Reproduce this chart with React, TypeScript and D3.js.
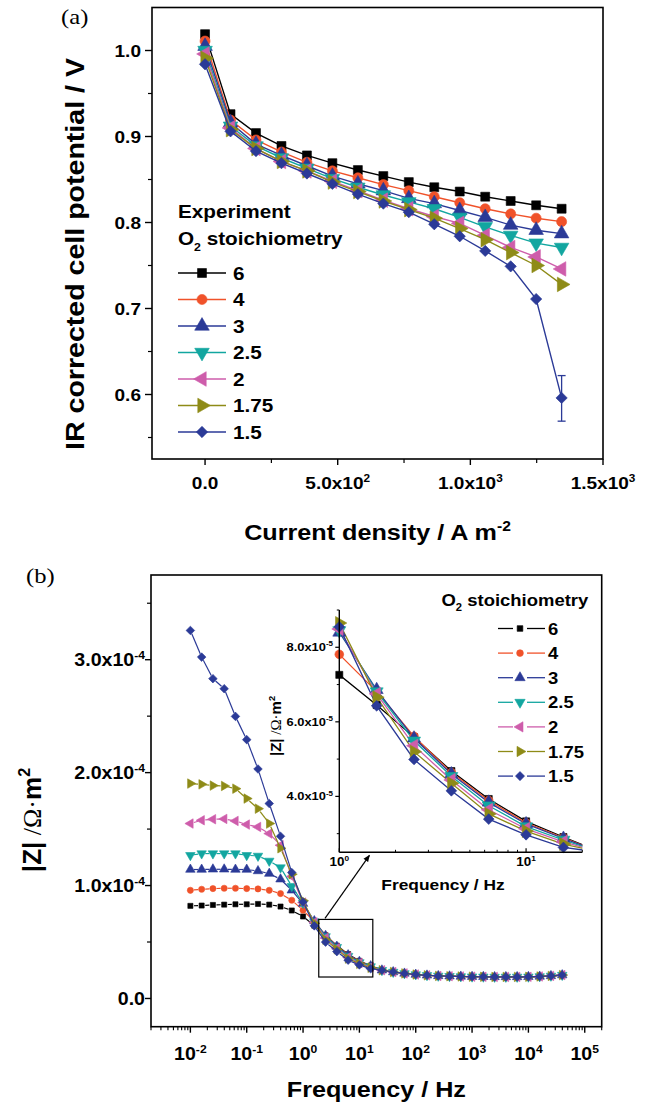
import React from "react";
import * as d3 from "d3";

// ---------------- Panel (a): polarisation curves ----------------
// current density, A m^-2
const currentDensity = [0, 96, 192, 288, 384, 480, 576, 672, 768, 864, 960, 1056, 1152, 1248, 1344];
// IR corrected cell potential, V, one array per O2 stoichiometry
const potentialStoich6 = [1.019, 0.926, 0.904, 0.889, 0.878, 0.869, 0.861, 0.854, 0.847, 0.841, 0.836, 0.830, 0.825, 0.820, 0.816];
const potentialStoich4 = [1.011, 0.919, 0.896, 0.882, 0.870, 0.860, 0.852, 0.844, 0.837, 0.830, 0.823, 0.816, 0.810, 0.805, 0.801];
const potentialStoich3 = [1.005, 0.916, 0.891, 0.878, 0.866, 0.854, 0.845, 0.837, 0.828, 0.822, 0.814, 0.806, 0.797, 0.791, 0.787];
const potentialStoich25 = [1.000, 0.912, 0.889, 0.875, 0.863, 0.851, 0.841, 0.832, 0.824, 0.816, 0.806, 0.795, 0.785, 0.776, 0.771];
const potentialStoich2 = [0.996, 0.910, 0.886, 0.871, 0.860, 0.848, 0.837, 0.826, 0.816, 0.807, 0.799, 0.785, 0.771, 0.760, 0.746];
const potentialStoich175 = [0.991, 0.908, 0.886, 0.871, 0.860, 0.847, 0.836, 0.825, 0.815, 0.805, 0.793, 0.780, 0.765, 0.750, 0.728];
const potentialStoich15 = [0.984, 0.906, 0.883, 0.869, 0.857, 0.845, 0.833, 0.822, 0.812, 0.798, 0.784, 0.767, 0.749, 0.711, 0.596];
// error bar on the last point of the 1.5 run (low, high)
const lastPointErrorStoich15 = [0.569, 0.622];

const yTicksA = [0.6, 0.7, 0.8, 0.9, 1.0];
const yMinorTicksA = [0.55, 0.65, 0.75, 0.85, 0.95];
const xTicksA = [0, 500, 1000, 1500];
const xMinorTicksA = [250, 750, 1250];
const xTickMantissaA = ["0.0", "5.0x10", "1.0x10", "1.5x10"];
const xTickExponentA = ["", "2", "3", "3"];

// ---------------- Panel (b): impedance magnitude ----------------
// frequency, Hz (five points per decade)
const frequency = [
  0.01, 0.01585, 0.02512, 0.03981, 0.0631, 0.1, 0.1585, 0.2512, 0.3981, 0.631,
  1, 1.585, 2.512, 3.981, 6.31, 10, 15.85, 25.12, 39.81, 63.1,
  100, 158.5, 251.2, 398.1, 631, 1000, 1585, 2512, 3981, 6310,
  10000, 15850, 25120, 39810,
];
// |Z| in units of 1e-4 Ω·m², 0.01 Hz to 15.85 Hz
const zStoich6 = [0.820, 0.823, 0.828, 0.831, 0.834, 0.834, 0.837, 0.831, 0.814, 0.779, 0.726, 0.645, 0.559, 0.468, 0.393, 0.333, 0.291];
const zStoich4 = [0.958, 0.967, 0.973, 0.976, 0.976, 0.973, 0.970, 0.958, 0.929, 0.870, 0.781, 0.681, 0.561, 0.464, 0.389, 0.329, 0.289];
const zStoich3 = [1.142, 1.142, 1.144, 1.144, 1.142, 1.142, 1.129, 1.106, 1.056, 0.958, 0.840, 0.686, 0.556, 0.460, 0.384, 0.326, 0.287];
const zStoich25 = [1.268, 1.283, 1.283, 1.283, 1.283, 1.268, 1.262, 1.218, 1.159, 0.994, 0.845, 0.681, 0.549, 0.454, 0.375, 0.319, 0.283];
const zStoich2 = [1.549, 1.578, 1.587, 1.590, 1.572, 1.540, 1.519, 1.460, 1.357, 1.080, 0.849, 0.675, 0.536, 0.444, 0.364, 0.313, 0.278];
const zStoich175 = [1.903, 1.896, 1.885, 1.882, 1.858, 1.770, 1.681, 1.549, 1.330, 1.100, 0.865, 0.666, 0.520, 0.435, 0.353, 0.307, 0.272];
const zStoich15 = [3.259, 3.023, 2.832, 2.743, 2.498, 2.292, 2.032, 1.726, 1.436, 1.115, 0.855, 0.643, 0.499, 0.415, 0.339, 0.297, 0.263];
// |Z| from 25 Hz upward, common to all runs (1e-4 Ω·m²)
const zHighFrequency = [0.250, 0.234, 0.222, 0.212, 0.205, 0.200, 0.197, 0.195, 0.193, 0.192, 0.191, 0.191, 0.191, 0.192, 0.195, 0.200, 0.207];

const yTicksB = [0, 1, 2, 3];
const yMinorTicksB = [0.5, 1.5, 2.5, 3.5];
const yTickMantissaB = ["0.0", "1.0x10", "2.0x10", "3.0x10"];
const yTickExponentB = ["", "-4", "-4", "-4"];
const xDecadesB = [-2, -1, 0, 1, 2, 3, 4, 5];

const yTicksInset = [0.4, 0.6, 0.8];
const yMinorTicksInset = [0.3, 0.5, 0.7, 0.9];
const yTickMantissaInset = ["4.0x10", "6.0x10", "8.0x10"];
const xDecadesInset = [0, 1];

// legend labels shared by both panels
const stoichLabels = ["6", "4", "3", "2.5", "2", "1.75", "1.5"];

// ---------------- styles ----------------
const seriesColors = ["#000000", "#F0522A", "#2B3A97", "#12A6A0", "#CE5DAB", "#8E8B17", "#2B3A97"];
const seriesShapes = ["square", "circle", "triangleUp", "triangleDown", "triangleLeft", "triangleRight", "diamond"];

const FONT = "'Liberation Sans', Arial, Helvetica, sans-serif";
const SERIF = "'Liberation Serif', 'Times New Roman', serif";
const STRETCH = 1.12;

const A = { left: 152, right: 603, top: 7.5, bottom: 459 };
const B = { left: 151, right: 601.7, top: 575, bottom: 1026.7 };
const INSET = { left: 339.3, right: 582.3, top: 610, bottom: 852.3 };

const xA = d3.scaleLinear().domain([-200, 1500]).range([A.left, A.right]);
const yA = d3.scaleLinear().domain([0.525, 1.05]).range([A.bottom, A.top]);
const xB = d3.scaleLog().domain([0.002, 2e5]).range([B.left, B.right]);
const yB = d3.scaleLinear().domain([-0.25, 3.75]).range([B.bottom, B.top]);
const xI = d3.scaleLog().domain([1, 20]).range([INSET.left, INSET.right]);
const yI = d3.scaleLinear().domain([0.25, 0.9]).range([INSET.bottom, INSET.top]);

const potentialSeries = [potentialStoich6, potentialStoich4, potentialStoich3, potentialStoich25, potentialStoich2, potentialStoich175, potentialStoich15];
const impedanceSeries = [zStoich6, zStoich4, zStoich3, zStoich25, zStoich2, zStoich175, zStoich15].map((low) => low.concat(zHighFrequency));

const rotationFor: Record<string, number> = {
  square: 0, circle: 0, triangleUp: 0, triangleDown: 180, triangleLeft: -90, triangleRight: 90, diamond: 45,
};

function markerPath(shape: string, area: number) {
  const type = shape === "circle" ? d3.symbolCircle : shape.startsWith("triangle") ? d3.symbolTriangle : d3.symbolSquare;
  return d3.symbol().type(type).size(area)() as string;
}

function Marker({ shape, x, y, area, color }: { shape: string; x: number; y: number; area: number; color: string }) {
  const scaleArea = shape.startsWith("triangle") ? area * 1.15 : shape === "diamond" ? area * 0.8 : area;
  return (
    <path
      d={markerPath(shape, scaleArea)}
      transform={`translate(${x},${y}) rotate(${rotationFor[shape]})`}
      fill={color}
      stroke={color}
      strokeWidth={0.6}
    />
  );
}

// text with a slight stretch along its reading direction (wide grotesque look)
function Txt({
  x, y, size, anchor = "start", rotate = 0, weight = "bold", family = FONT, stretch = STRETCH, children,
}: any) {
  return (
    <g transform={`translate(${x},${y})${rotate ? ` rotate(${rotate})` : ""} scale(${stretch},1)`}>
      <text x={0} y={0} fontSize={size} fontWeight={weight} fontFamily={family} textAnchor={anchor} fill="#000">
        {children}
      </text>
    </g>
  );
}

function Sup({ size, children }: any) {
  return (
    <tspan dy={-size * 0.42} fontSize={size * 0.62}>
      {children}
    </tspan>
  );
}

// line between consecutive points with a small gap left around each symbol
function gappedSegments(pts: [number, number][], gap: number) {
  const segs: [number, number, number, number][] = [];
  for (let i = 0; i < pts.length - 1; i++) {
    const [x1, y1] = pts[i];
    const [x2, y2] = pts[i + 1];
    const len = Math.hypot(x2 - x1, y2 - y1);
    if (len <= 2 * gap + 0.5) continue;
    const ux = (x2 - x1) / len;
    const uy = (y2 - y1) / len;
    segs.push([x1 + ux * gap, y1 + uy * gap, x2 - ux * gap, y2 - uy * gap]);
  }
  return segs;
}

function PanelA() {
  const line = d3
    .line<number>()
    .x((_, i) => xA(currentDensity[i]))
    .y((d) => yA(d));
  const areaA = 80;
  const legendX = 178;
  const legendY0 = 273;
  const legendStep = 26.5;
  const lastX = xA(currentDensity[currentDensity.length - 1]);
  return (
    <g>
      <Txt x={61} y={24} size={22} weight="normal" family={SERIF}>(a)</Txt>
      {/* series */}
      {potentialSeries.map((vals, s) => (
        <g key={s}>
          <path d={line(vals) as string} fill="none" stroke={seriesColors[s]} strokeWidth={1.4} />
          {vals.map((v, i) => (
            <Marker key={i} shape={seriesShapes[s]} x={xA(currentDensity[i])} y={yA(v)} area={areaA} color={seriesColors[s]} />
          ))}
        </g>
      ))}
      {/* error bar */}
      <g stroke={seriesColors[6]} strokeWidth={1.3}>
        <line x1={lastX} x2={lastX} y1={yA(lastPointErrorStoich15[0])} y2={yA(lastPointErrorStoich15[1])} />
        <line x1={lastX - 4} x2={lastX + 4} y1={yA(lastPointErrorStoich15[0])} y2={yA(lastPointErrorStoich15[0])} />
        <line x1={lastX - 4} x2={lastX + 4} y1={yA(lastPointErrorStoich15[1])} y2={yA(lastPointErrorStoich15[1])} />
      </g>
      {/* frame */}
      <rect x={A.left} y={A.top} width={A.right - A.left} height={A.bottom - A.top} fill="none" stroke="#000" strokeWidth={1.6} />
      {/* y axis ticks */}
      {yTicksA.map((t) => (
        <g key={t}>
          <line x1={A.left - 7} x2={A.left} y1={yA(t)} y2={yA(t)} stroke="#000" strokeWidth={1.4} />
          <Txt x={141} y={yA(t) + 6} size={17} anchor="end">{t.toFixed(1)}</Txt>
        </g>
      ))}
      {yMinorTicksA.map((t) => (
        <line key={t} x1={A.left - 4} x2={A.left} y1={yA(t)} y2={yA(t)} stroke="#000" strokeWidth={1.2} />
      ))}
      {/* x axis ticks */}
      {xTicksA.map((t, i) => (
        <g key={t}>
          <line x1={xA(t)} x2={xA(t)} y1={A.bottom} y2={A.bottom + 6} stroke="#000" strokeWidth={1.4} />
          <Txt x={xA(t)} y={489} size={17} anchor="middle">
            {xTickMantissaA[i]}
            {xTickExponentA[i] && <Sup size={17}>{xTickExponentA[i]}</Sup>}
          </Txt>
        </g>
      ))}
      {xMinorTicksA.map((t) => (
        <line key={t} x1={xA(t)} x2={xA(t)} y1={A.bottom} y2={A.bottom + 4} stroke="#000" strokeWidth={1.2} />
      ))}
      {/* axis titles */}
      <Txt x={(A.left + A.right) / 2} y={540} size={22.5} anchor="middle">
        Current density / A m<Sup size={22.5}>-2</Sup>
      </Txt>
      <Txt x={84} y={254} size={25.5} anchor="middle" rotate={-90}>
        IR corrected cell potential / V
      </Txt>
      {/* legend */}
      <Txt x={legendX} y={217.5} size={18.5}>Experiment</Txt>
      <Txt x={legendX} y={245} size={18.5}>
        O<tspan dy={6} fontSize={11}>2</tspan>
        <tspan dy={-6}> stoichiometry</tspan>
      </Txt>
      {stoichLabels.map((lab, s) => {
        const ly = legendY0 + s * legendStep;
        return (
          <g key={lab}>
            <line x1={legendX} x2={legendX + 48} y1={ly} y2={ly} stroke={seriesColors[s]} strokeWidth={1.4} />
            <Marker shape={seriesShapes[s]} x={legendX + 24} y={ly} area={areaA} color={seriesColors[s]} />
            <Txt x={legendX + 55} y={ly + 6.5} size={18.5}>{lab}</Txt>
          </g>
        );
      })}
    </g>
  );
}

function PanelB() {
  const mainArea = [26, 30, 34, 34, 34, 34, 46];
  const insetArea = [50, 60, 64, 64, 64, 64, 72];
  const logMinor = (lo: number, hi: number, domain: [number, number]) => {
    const out: number[] = [];
    for (let d = lo; d <= hi; d++) {
      for (let m = 2; m <= 9; m++) {
        const v = m * Math.pow(10, d);
        if (v >= domain[0] && v <= domain[1]) out.push(v);
      }
    }
    return out;
  };
  const minorB = logMinor(-3, 5, [0.002, 2e5]);
  const minorInset = logMinor(0, 1, [1, 20]);
  const insetLine = d3
    .line<number>()
    .x((_, i) => xI(frequency[i]))
    .y((d) => yI(d));
  const boxF = [1.9, 17.3];
  const boxZ = [0.19, 0.7];
  const legendX = 498;
  const legendY0 = 628.5;
  const legendStep = 24.6;
  const insetIdx = frequency.map((f, i) => i).filter((i) => frequency[i] >= 1 && frequency[i] <= 20);
  return (
    <g>
      <defs>
        <clipPath id="insetClip">
          <rect x={INSET.left} y={INSET.top - 5} width={INSET.right - INSET.left} height={INSET.bottom - INSET.top + 5} />
        </clipPath>
        <marker id="arrowHead" viewBox="0 0 10 10" refX="9" refY="5" markerWidth="7" markerHeight="7" orient="auto-start-reverse" markerUnits="userSpaceOnUse">
          <path d="M0,1 L10,5 L0,9 z" fill="#000" />
        </marker>
      </defs>
      <Txt x={26} y={583} size={22} weight="normal" family={SERIF}>(b)</Txt>

      {/* main series */}
      {impedanceSeries.map((vals, s) => {
        const pts = vals.map((v, i) => [xB(frequency[i]), yB(v)] as [number, number]);
        return (
          <g key={s}>
            {gappedSegments(pts, 3.6).map((g, k) => (
              <line key={k} x1={g[0]} y1={g[1]} x2={g[2]} y2={g[3]} stroke={seriesColors[s]} strokeWidth={1.2} />
            ))}
            {pts.map((p, i) => (
              <Marker key={i} shape={seriesShapes[s]} x={p[0]} y={p[1]} area={mainArea[s]} color={seriesColors[s]} />
            ))}
          </g>
        );
      })}

      {/* zoom box and arrow */}
      <rect
        x={xB(boxF[0])}
        y={yB(boxZ[1])}
        width={xB(boxF[1]) - xB(boxF[0])}
        height={yB(boxZ[0]) - yB(boxZ[1])}
        fill="none"
        stroke="#000"
        strokeWidth={1.2}
      />
      <line x1={xB(2.45)} y1={yB(boxZ[1]) - 1} x2={xI(1.45)} y2={INSET.bottom + 3} stroke="#000" strokeWidth={1.2} markerEnd="url(#arrowHead)" />

      {/* frame */}
      <rect x={B.left} y={B.top} width={B.right - B.left} height={B.bottom - B.top} fill="none" stroke="#000" strokeWidth={1.6} />
      {yTicksB.map((t, i) => (
        <g key={t}>
          <line x1={B.left - 6} x2={B.left} y1={yB(t)} y2={yB(t)} stroke="#000" strokeWidth={1.4} />
          <Txt x={145} y={yB(t) + 6.5} size={17.5} anchor="end">
            {yTickMantissaB[i]}
            {yTickExponentB[i] && <Sup size={17.5}>{yTickExponentB[i]}</Sup>}
          </Txt>
        </g>
      ))}
      {yMinorTicksB.map((t) => (
        <line key={t} x1={B.left - 4} x2={B.left} y1={yB(t)} y2={yB(t)} stroke="#000" strokeWidth={1.2} />
      ))}
      {xDecadesB.map((d) => (
        <g key={d}>
          <line x1={xB(Math.pow(10, d))} x2={xB(Math.pow(10, d))} y1={B.bottom} y2={B.bottom + 6} stroke="#000" strokeWidth={1.4} />
          <Txt x={xB(Math.pow(10, d))} y={1060} size={17.5} anchor="middle">
            10<Sup size={17.5}>{String(d)}</Sup>
          </Txt>
        </g>
      ))}
      {minorB.map((v) => (
        <line key={v} x1={xB(v)} x2={xB(v)} y1={B.bottom} y2={B.bottom + 3.5} stroke="#000" strokeWidth={1.1} />
      ))}
      <Txt x={(B.left + B.right) / 2} y={1097} size={22.5} anchor="middle">
        Frequency / Hz
      </Txt>
      <Txt x={41} y={820} size={26} anchor="middle" rotate={-90} stretch={1}>
        |Z|<tspan fontWeight="normal" fontFamily={SERIF}> /Ω·</tspan>m<Sup size={26}>2</Sup>
      </Txt>

      {/* inset */}
      <g clipPath="url(#insetClip)">
        {impedanceSeries.map((vals, s) => (
          <path key={s} d={insetLine(vals.slice(0, 18)) as string} fill="none" stroke={seriesColors[s]} strokeWidth={1.3} />
        ))}
      </g>
      {impedanceSeries.map((vals, s) => (
        <g key={s}>
          {insetIdx.map((i) => (
            <Marker key={i} shape={seriesShapes[s]} x={xI(frequency[i])} y={yI(vals[i])} area={insetArea[s]} color={seriesColors[s]} />
          ))}
        </g>
      ))}
      <line x1={INSET.left} x2={INSET.left} y1={INSET.top} y2={INSET.bottom} stroke="#000" strokeWidth={1.4} />
      <line x1={INSET.left} x2={INSET.right} y1={INSET.bottom} y2={INSET.bottom} stroke="#000" strokeWidth={1.4} />
      {yTicksInset.map((t, i) => (
        <g key={t}>
          <line x1={INSET.left - 4} x2={INSET.left} y1={yI(t)} y2={yI(t)} stroke="#000" strokeWidth={1.2} />
          <Txt x={333} y={yI(t) + 4} size={11.5} anchor="end">
            {yTickMantissaInset[i]}
            <Sup size={11.5}>-5</Sup>
          </Txt>
        </g>
      ))}
      {yMinorTicksInset.map((t) => (
        <line key={t} x1={INSET.left - 2.5} x2={INSET.left} y1={yI(t)} y2={yI(t)} stroke="#000" strokeWidth={1} />
      ))}
      {xDecadesInset.map((d) => (
        <g key={d}>
          <line x1={xI(Math.pow(10, d))} x2={xI(Math.pow(10, d))} y1={INSET.bottom} y2={INSET.bottom - 4} stroke="#000" strokeWidth={1.2} />
          <Txt x={xI(Math.pow(10, d))} y={866} size={12} anchor="middle">
            10<Sup size={12}>{String(d)}</Sup>
          </Txt>
        </g>
      ))}
      {minorInset.map((v) => (
        <line key={v} x1={xI(v)} x2={xI(v)} y1={INSET.bottom} y2={INSET.bottom - 2.5} stroke="#000" strokeWidth={1} />
      ))}
      <Txt x={443} y={890} size={15.5} anchor="middle">Frequency / Hz</Txt>
      <Txt x={281} y={726} size={15} anchor="middle" rotate={-90} stretch={1}>
        |Z|<tspan fontWeight="normal" fontFamily={SERIF}> /Ω·</tspan>m<Sup size={15}>2</Sup>
      </Txt>

      {/* legend */}
      <Txt x={441.5} y={606} size={16.5}>
        O<tspan dy={5} fontSize={10}>2</tspan>
        <tspan dy={-5}> stoichiometry</tspan>
      </Txt>
      {stoichLabels.map((lab, s) => {
        const ly = legendY0 + s * legendStep;
        return (
          <g key={lab}>
            <line x1={legendX} x2={legendX + 15} y1={ly} y2={ly} stroke={seriesColors[s]} strokeWidth={1.3} />
            <line x1={legendX + 29} x2={legendX + 47} y1={ly} y2={ly} stroke={seriesColors[s]} strokeWidth={1.3} />
            <Marker shape={seriesShapes[s]} x={legendX + 22} y={ly} area={mainArea[s] + 6} color={seriesColors[s]} />
            <Txt x={legendX + 50} y={ly + 6} size={16.5}>{lab}</Txt>
          </g>
        );
      })}
    </g>
  );
}

export default function App() {
  return (
    <svg
      width={656}
      height={1106}
      viewBox="0 0 656 1106"
      style={{ position: "absolute", left: 0, top: 0, background: "#fff" }}
    >
      <rect x={0} y={0} width={656} height={1106} fill="#fff" />
      <PanelA />
      <PanelB />
    </svg>
  );
}
